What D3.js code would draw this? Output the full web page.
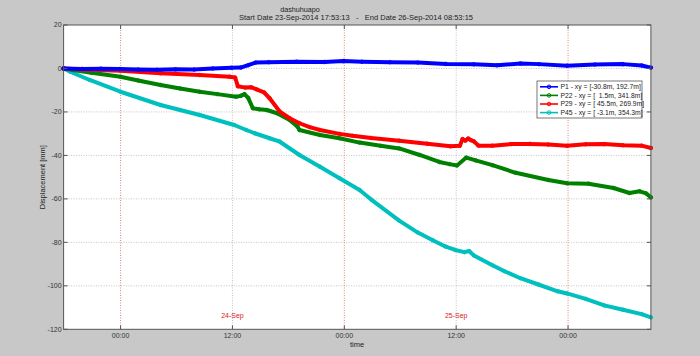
<!DOCTYPE html>
<html><head><meta charset="utf-8">
<script src="https://cdn.jsdelivr.net/npm/d3@7"></script>
<style>
html,body{margin:0;padding:0;background:#c8c8c8;}
svg{display:block;font-family:"Liberation Sans",Arial,sans-serif;}
</style></head>
<body><svg id="c" width="700" height="356"></svg>
<script>
// ---- data ----
const startDate = "2014-09-23T17:53:13";
const endDate = "2014-09-26T08:53:15";
const seriesNames = ["P1 - xy = [-30.8m, 192.7m]", "P22 - xy = [  1.5m, 341.8m]", "P29 - xy = [ 45.5m, 269.9m]", "P45 - xy = [ -3.1m, 354.3m]"];
const seriesColors = ["#0000ff", "#008000", "#ff0000", "#00bfbf"];
// hours since start / displacement [mm]
const p1Hours = [0,2,4,6,8,10,12,14,16,18,19,19.8,20.6,22,25,28,30,32,35,38,41,44,46.5,49,51,54,57,60,62,63];
const p1Values = [0,-0.2,-0.1,-0.3,-0.5,-0.6,-0.4,-0.5,0.0,0.3,0.4,1.5,2.7,2.9,3.1,3.0,3.4,3.1,2.9,2.7,2.1,1.9,1.5,2.3,2.0,1.3,1.8,2.0,1.4,0.4];
const p22Hours = [0,1,3,6.1,8,10.4,12.5,14.6,16.5,18.5,19,19.4,19.8,20.3,21,21.8,22.9,24.25,25.1,25.3,27.5,29.6,31.75,34,36,38.2,40.3,41.4,42.2,43.2,44.2,46,48.5,52,54,56.3,59,60.7,61.8,62.5,63];
const p22Values = [0,-0.7,-2,-3.8,-5.5,-7.6,-9.2,-10.7,-11.8,-13,-12.6,-11.8,-13.5,-18.3,-18.8,-19.1,-20.6,-23.7,-26.8,-28.3,-30.6,-32.1,-34.1,-35.6,-36.8,-39.8,-43,-44,-44.6,-41,-42.3,-44.5,-48,-51.3,-52.8,-53,-55,-57.3,-56.5,-57.5,-59.3];
const p29Hours = [0,2,6.1,10.4,14.6,17.8,18.4,18.7,19.5,20.1,20.7,21.5,22.1,23.2,24.25,25.3,26.4,27.5,29.6,31,33,36,39,41.5,42.5,42.8,43.1,43.4,43.7,44,44.5,46,48,50,52,54,56,58,60,62,63];
const p29Values = [0,-0.5,-1,-2.2,-3,-3.8,-4.2,-8.2,-8.8,-8.6,-9.6,-11,-13.7,-19.9,-22.9,-25.2,-27,-28.3,-30.1,-31,-32,-33.2,-34.6,-35.8,-35.6,-32.5,-33.2,-32.2,-33,-33.5,-35.5,-35.5,-34.8,-34.7,-35,-35.6,-34.9,-34.8,-35.3,-35.5,-36.6];
const p45Hours = [0,0.7,2.8,6.1,10.4,12.5,14.6,18.3,19.6,20.5,22.1,23.2,25.3,27.5,29.6,31.75,33,36,38,39.6,41,42,43,43.5,44,46,47.3,49,51,53,54,56,58,60,62,63];
const p45Values = [0,-1.5,-5.3,-10.7,-16.8,-19.1,-21.4,-26,-28.3,-29.8,-32.1,-33.7,-39.8,-45.2,-50.5,-55.9,-60.3,-70,-75.5,-79,-82,-83.5,-84.5,-84,-86,-90.5,-93.3,-96.5,-99.5,-102.5,-103.5,-106,-109,-111,-113,-114.5];
const yTicks = [20,0,-20,-40,-60,-80,-100,-120];
const dayLabels = ["24-Sep","25-Sep"];
const dayLabelTimes = ["2014-09-24T12:00:00","2014-09-25T12:00:00"];
const titleLine1 = "dashuhuapo";
const titleLine2 = "Start Date 23-Sep-2014 17:53:13   -   End Date 26-Sep-2014 08:53:15";

// ---- layout ----
const svg = d3.select("#c");
const L = 63.6, R = 650.9, T = 25, B = 329.3;
const parse = d3.isoParse;
const t0 = parse(startDate), t1 = parse(endDate);
const x = d3.scaleTime().domain([t0, t1]).range([L, R]);
const y = d3.scaleLinear().domain([-120, 20]).range([B, T]);
const hToDate = h => new Date(t0.getTime() + h * 3600e3);

svg.append("rect").attr("width",700).attr("height",356).attr("fill","#c8c8c8");
svg.append("rect").attr("x",L).attr("y",T).attr("width",R-L).attr("height",B-T).attr("fill","#fff");

const xTicks = d3.timeHour.every(12).range(d3.timeHour.ceil(t0), t1);
// grid
const g = svg.append("g");
yTicks.forEach(v => {
  if (v === 20 || v === -120) return;
  g.append("line").attr("x1",L).attr("x2",R).attr("y1",y(v)).attr("y2",y(v))
   .attr("stroke","#b4b4b4").attr("stroke-width",0.8).attr("stroke-dasharray","1,1.5");
});
xTicks.forEach(t => {
  const midnight = t.getHours() === 0;
  g.append("line").attr("x1",x(t)).attr("x2",x(t)).attr("y1",T).attr("y2",B)
   .attr("stroke", midnight ? "#e06060" : "#b4b4b4").attr("stroke-width",0.8).attr("stroke-dasharray","1,1.5");
});

// series
const allSeries = [[p1Hours,p1Values],[p22Hours,p22Values],[p29Hours,p29Values],[p45Hours,p45Values]];
const line = d3.line().x(d => x(hToDate(d[0]))).y(d => y(d[1]));
const drawOrder = [3,1,2,0];
drawOrder.forEach(i => {
  const [hs, vs] = allSeries[i];
  const pts = hs.map((h,k) => [h, vs[k]]);
  svg.append("path").datum(pts).attr("d", line).attr("fill","none")
    .attr("stroke", seriesColors[i]).attr("stroke-width",4).attr("stroke-linejoin","round").attr("stroke-linecap","round");
  svg.append("g").selectAll("circle").data(pts).join("circle")
    .attr("cx", d => x(hToDate(d[0]))).attr("cy", d => y(d[1])).attr("r",1.8)
    .attr("fill","none").attr("stroke",seriesColors[i]).attr("stroke-width",0.8);
});

// axes box
svg.append("rect").attr("x",L).attr("y",T).attr("width",R-L).attr("height",B-T)
  .attr("fill","none").attr("stroke","#555").attr("stroke-width",1);
const tickLen = 4;
yTicks.forEach(v => {
  svg.append("line").attr("x1",L).attr("x2",L+tickLen).attr("y1",y(v)).attr("y2",y(v)).attr("stroke","#555");
  svg.append("line").attr("x1",R).attr("x2",R-tickLen).attr("y1",y(v)).attr("y2",y(v)).attr("stroke","#555");
  svg.append("text").attr("x",L-2).attr("y",y(v)).attr("dy","0.35em").attr("text-anchor","end")
    .attr("font-size",7).attr("fill","#333").text(v);
});
const fmt = d3.timeFormat("%H:%M");
xTicks.forEach(t => {
  svg.append("line").attr("x1",x(t)).attr("x2",x(t)).attr("y1",B).attr("y2",B-tickLen).attr("stroke","#555");
  svg.append("line").attr("x1",x(t)).attr("x2",x(t)).attr("y1",T).attr("y2",T+tickLen).attr("stroke","#555");
  svg.append("text").attr("x",x(t)).attr("y",B+8.5).attr("text-anchor","middle")
    .attr("font-size",7).attr("fill","#333").text(fmt(t));
});
dayLabels.forEach((lab,i) => {
  svg.append("text").attr("x",x(parse(dayLabelTimes[i]))).attr("y",y(-113.5)).attr("dy","0.35em")
    .attr("text-anchor","middle").attr("font-size",7).attr("fill","#e02020").text(lab);
});

// titles & labels
svg.append("text").attr("x",300).attr("y",12.2).attr("text-anchor","middle").attr("font-size",7.2).attr("fill","#222").text(titleLine1);
svg.append("text").attr("x",356).attr("y",20).attr("text-anchor","middle").attr("font-size",7.2).attr("fill","#222")
  .attr("textLength",234).attr("lengthAdjust","spacingAndGlyphs")
  .attr("xml:space","preserve").style("white-space","pre").text(titleLine2);
svg.append("text").attr("x",357).attr("y",346.5).attr("text-anchor","middle").attr("font-size",7.5).attr("fill","#222").text("time");
svg.append("text").attr("transform",`translate(45,${(T+B)/2}) rotate(-90)`).attr("text-anchor","middle")
  .attr("font-size",7.5).attr("fill","#222").text("Displacement [mm]");

// legend
const lg = svg.append("g");
lg.append("rect").attr("x",537).attr("y",81).attr("width",105).attr("height",37).attr("fill","#fff").attr("stroke","#555").attr("stroke-width",0.8);
seriesNames.forEach((n,i) => {
  const yy = 86.8 + i*8.6;
  lg.append("line").attr("x1",540).attr("x2",558).attr("y1",yy).attr("y2",yy).attr("stroke",seriesColors[i]).attr("stroke-width",1.6);
  lg.append("circle").attr("cx",549).attr("cy",yy).attr("r",1.8).attr("fill","none").attr("stroke",seriesColors[i]).attr("stroke-width",1);
  lg.append("text").attr("x",560.5).attr("y",yy).attr("dy","0.35em").attr("font-size",6.8).attr("fill","#222")
    .attr("xml:space","preserve").style("white-space","pre").text(n);
});
</script></body></html>
